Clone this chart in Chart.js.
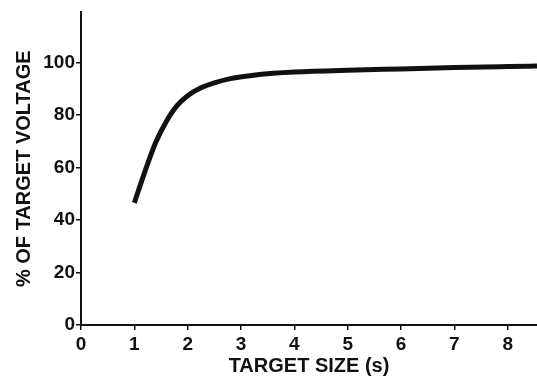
<!DOCTYPE html>
<html>
<head>
<meta charset="utf-8">
<script src="https://cdn.jsdelivr.net/npm/chart.js@4"></script>
<style>
	html, body { margin:0; padding:0; background:#fff; }
	#chart { display:block; }
</style>
</head>
<body>
<canvas id="chart" width="537" height="377"></canvas>
<script>
// curve
const targetSize = [1, 1.2, 1.4, 1.6, 1.8, 2, 2.25, 2.5, 2.8, 3.2, 3.6, 4, 5, 6, 7, 8, 8.55]
const voltagePct = [46.5, 58.5, 69.5, 77.5, 83.5, 87.3, 90.3, 92.2, 93.8, 95, 95.8, 96.3, 97, 97.5, 98, 98.4, 98.6]

const xTitle = 'TARGET SIZE (s)'
const yTitle = '% OF TARGET VOLTAGE'

const ink = '#111'
const font = 'Liberation Sans, Arial, sans-serif'

const points = targetSize.map((x, i) => ({ x, y:voltagePct[i] }))

new Chart(document.getElementById('chart'), {
	type:'line',
	data:{
		datasets:[
			{
				data:points,
				borderColor:ink,
				borderWidth:5,
				pointRadius:0,
				cubicInterpolationMode:'monotone',
				fill:false
			}
		]
	},
	options:{
		responsive:false,
		animation:false,
		layout:{ padding:{ top:10, right:0, left:0, bottom:0 } },
		plugins:{
			legend:{ display:false },
			tooltip:{ enabled:false }
		},
		scales:{
			x:{
				type:'linear',
				min:0,
				max:8.55,
				afterFit: scale => { scale.height = 52 },
				border:{ color:ink, width:2 },
				grid:{ drawOnChartArea:false, color:ink, lineWidth:1.5, tickLength:5 },
				ticks:{ stepSize:1, includeBounds:false, color:ink, padding:3, font:{ family:font, size:19, weight:'bold' } },
				title:{ display:true, text:xTitle, color:ink, padding:{ top:0, bottom:-1 }, font:{ family:font, size:20, weight:'bold' } }
			},
			y:{
				min:0,
				max:119,
				afterFit: scale => { scale.width = 81 },
				border:{ color:ink, width:2 },
				grid:{ drawOnChartArea:false, color:ink, lineWidth:1.5, tickLength:5 },
				ticks:{ stepSize:20, includeBounds:false, color:ink, padding:1, font:{ family:font, size:19, weight:'bold' } },
				title:{ display:true, text:yTitle, color:ink, padding:{ top:12, bottom:0 }, font:{ family:font, size:20, weight:'bold' } }
			}
		}
	}
})
</script>
</body>
</html>
